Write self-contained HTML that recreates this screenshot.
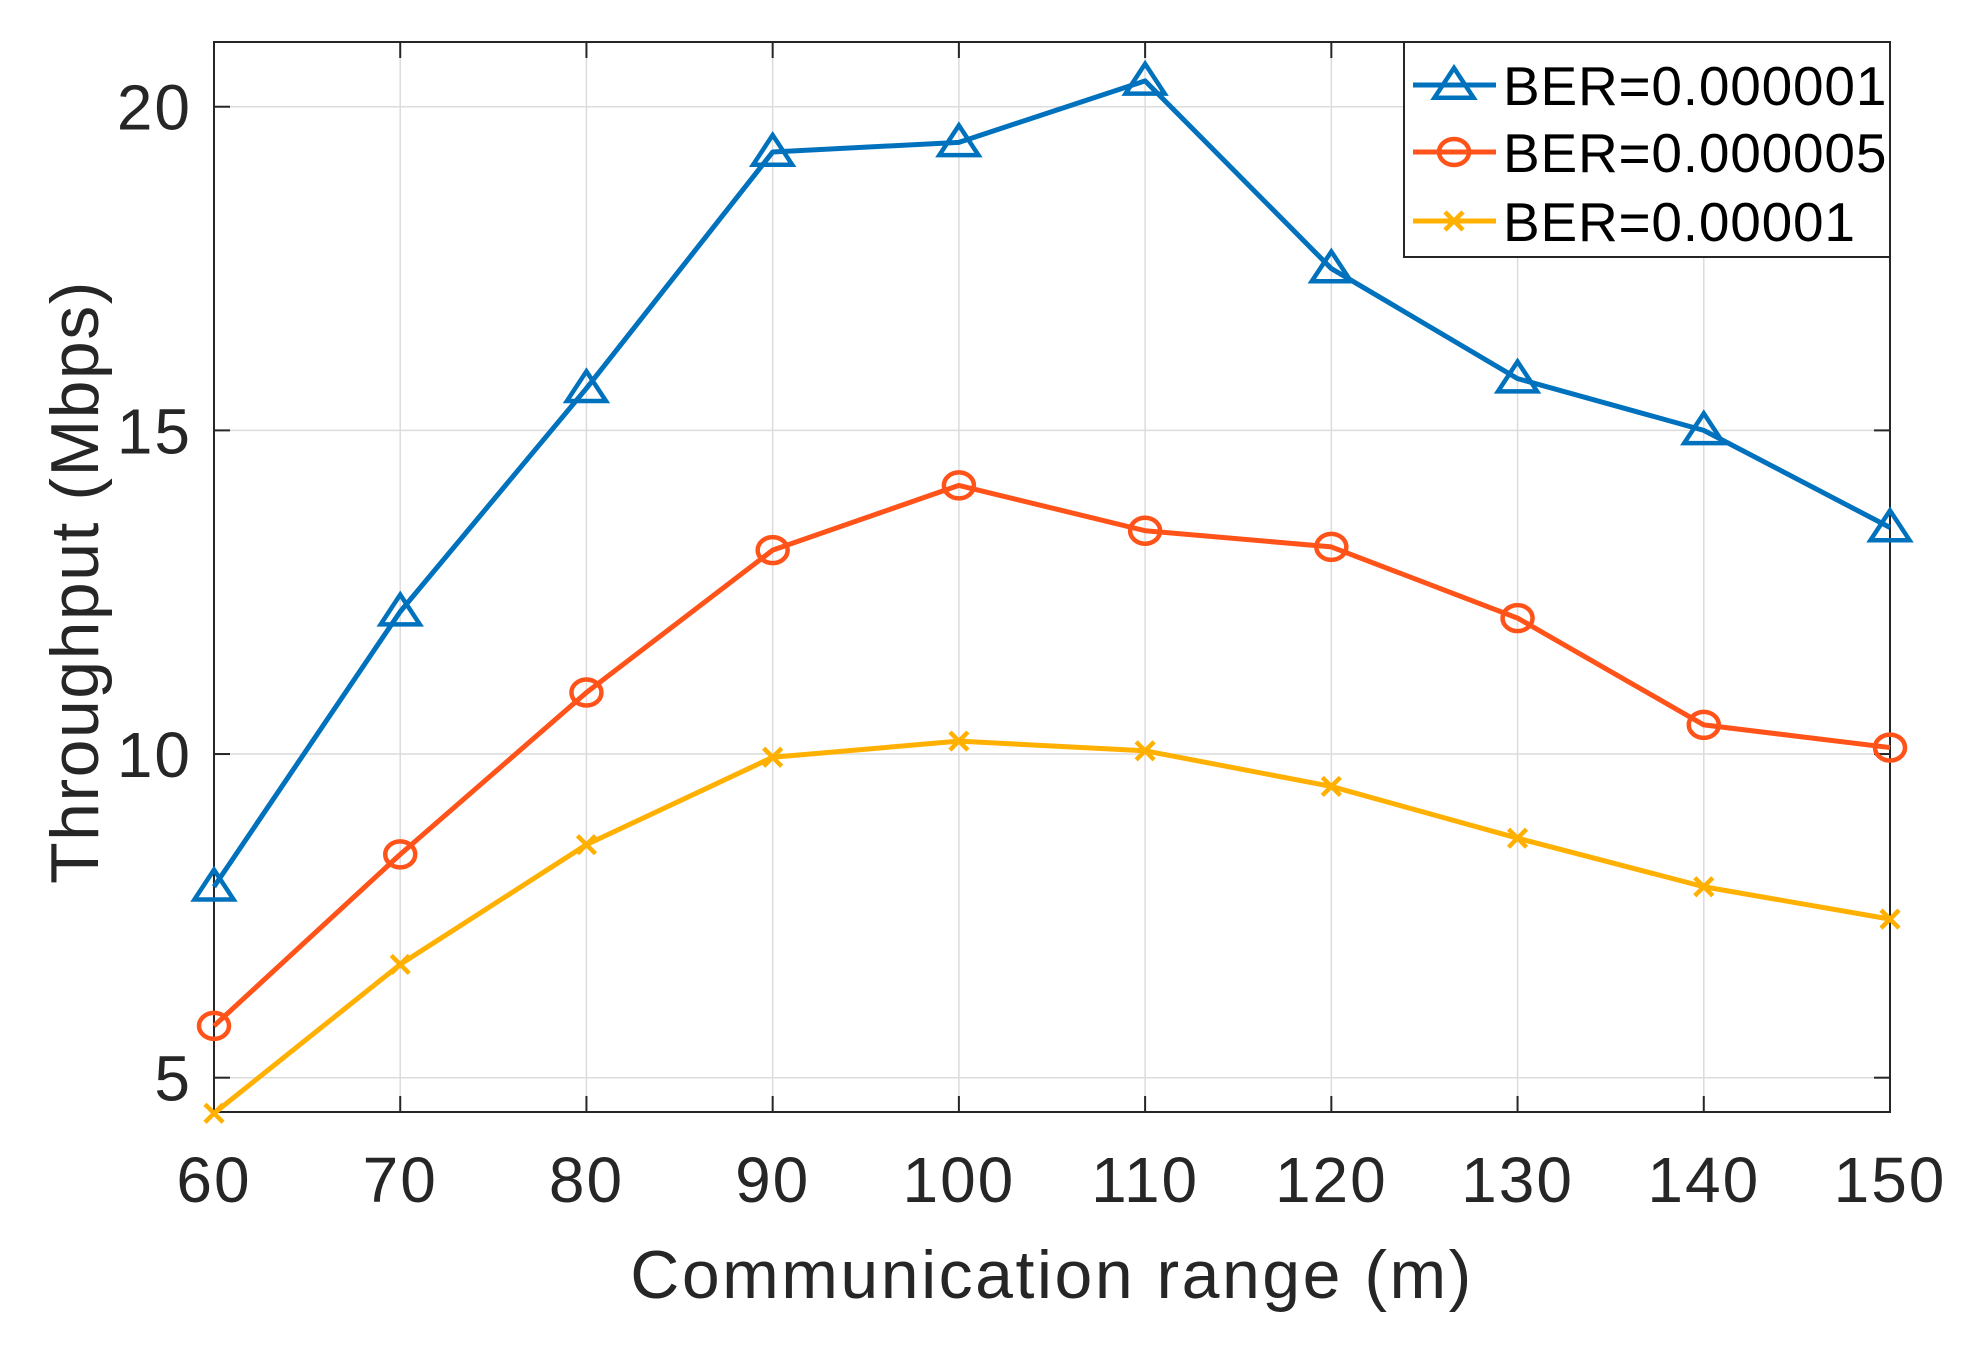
<!DOCTYPE html>
<html><head><meta charset="utf-8"><style>
html,body{margin:0;padding:0;background:#fff;}
svg{display:block;font-family:"Liberation Sans",Arial,sans-serif;}
</style></head><body>
<svg id="chart" width="1986" height="1358"></svg>
<script>
const categories=[60,70,80,90,100,110,120,130,140,150];
const seriesBlue=[7.95,12.2,15.65,19.3,19.45,20.4,17.5,15.8,15.0,13.5];
const seriesOrange=[5.8,8.45,10.95,13.15,14.15,13.45,13.2,12.1,10.45,10.1];
const seriesYellow=[4.45,6.75,8.6,9.95,10.2,10.05,9.5,8.7,7.95,7.45];
const xTicks=[60,70,80,90,100,110,120,130,140,150];
const yTicks=[5,10,15,20];
const seriesNames=["BER=0.000001","BER=0.000005","BER=0.00001"];

const NS="http://www.w3.org/2000/svg";
const svg=document.getElementById('chart');
const L=214,R=1890,T=42,B=1112,xMin=60,xMax=150,yMin=4.47,yMax=21;
const sx=v=>L+(v-xMin)/(xMax-xMin)*(R-L);
const sy=v=>B-(v-yMin)/(yMax-yMin)*(B-T);
function mk(tag,attrs,parent){const e=document.createElementNS(NS,tag);for(const k in attrs)e.setAttribute(k,attrs[k]);(parent||svg).appendChild(e);return e;}

const grid=mk('g',{});


xTicks.forEach(v=>{mk('line',{x1:sx(v),x2:sx(v),y1:T,y2:B,stroke:'#dcdcdc','stroke-width':1.5},grid);});
yTicks.forEach(v=>{mk('line',{x1:L,x2:R,y1:sy(v),y2:sy(v),stroke:'#dcdcdc','stroke-width':1.5},grid);});

const axes=mk('g',{});


mk('rect',{x:L,y:T,width:R-L,height:B-T,fill:'none',stroke:'#262626','stroke-width':2},axes);
xTicks.forEach(v=>{
 mk('line',{x1:sx(v),x2:sx(v),y1:B,y2:B-16,stroke:'#262626','stroke-width':2},axes);
 mk('line',{x1:sx(v),x2:sx(v),y1:T,y2:T+16,stroke:'#262626','stroke-width':2},axes);
 const t=mk('text',{x:sx(v),y:1202,'text-anchor':'middle','font-size':64,fill:'#262626','letter-spacing':2},axes);
 t.textContent=v;
 
 
});
yTicks.forEach(v=>{
 mk('line',{x1:L,x2:L+16,y1:sy(v),y2:sy(v),stroke:'#262626','stroke-width':2},axes);
 mk('line',{x1:R,x2:R-16,y1:sy(v),y2:sy(v),stroke:'#262626','stroke-width':2},axes);
 const t=mk('text',{x:192,y:sy(v)+23,'text-anchor':'end','font-size':64,fill:'#262626','letter-spacing':2},axes);
 t.textContent=v;
 
 
});
const xt=mk('text',{x:1052,y:1298,'text-anchor':'middle','font-size':68,fill:'#262626','letter-spacing':2.5});
xt.textContent='Communication range (m)';


const yt=mk('text',{x:0,y:0,'text-anchor':'middle','font-size':68,fill:'#262626','letter-spacing':1.5,transform:'translate(98,582) rotate(-90)'});
yt.textContent='Throughput (Mbps)';



const colors=['#0072BD','#FF5319','#FFB000'];
const markers=['tri','circ','x'];
function marker(type,x,y,c,g){
 if(type==='tri'){const s=17;mk('polygon',{points:`${x},${y-s} ${x-s*1.15},${y+s*0.75} ${x+s*1.15},${y+s*0.75}`,fill:'none',stroke:c,'stroke-width':4.5},g);}
 else if(type==='circ'){mk('ellipse',{cx:x,cy:y,rx:15,ry:13,fill:'none',stroke:c,'stroke-width':4.5},g);}
 else {const s=9;mk('path',{d:`M${x-s} ${y-s}L${x+s} ${y+s}M${x-s} ${y+s}L${x+s} ${y-s}`,stroke:c,'stroke-width':4.5},g);}
}
const allSeries=[seriesBlue,seriesOrange,seriesYellow];
const serNames=['series-ber-000001','series-ber-000005','series-ber-00001'];
allSeries.forEach((s,i)=>{
 const g=mk('g',{});
 
 
 mk('polyline',{points:s.map((v,j)=>sx(categories[j])+','+sy(v)).join(' '),fill:'none',stroke:colors[i],'stroke-width':5,'stroke-linejoin':'round'},g);
 s.forEach((v,j)=>marker(markers[i],sx(categories[j]),sy(v),colors[i],g));
});

const lg=mk('g',{});


mk('rect',{x:1404,y:42,width:486,height:215,fill:'#fff',stroke:'#262626','stroke-width':2},lg);
const rows=[85,152,221];
seriesNames.forEach((n,i)=>{
 const e=mk('g',{},lg);
 
 
 mk('line',{x1:1413,x2:1496,y1:rows[i],y2:rows[i],stroke:colors[i],'stroke-width':5},e);
 marker(markers[i],1454,rows[i],colors[i],e);
 const t=mk('text',{x:1503,y:rows[i]+20,'font-size':55,fill:'#000','letter-spacing':0.8},e);
 t.textContent=n;
});
</script>
</body></html>
